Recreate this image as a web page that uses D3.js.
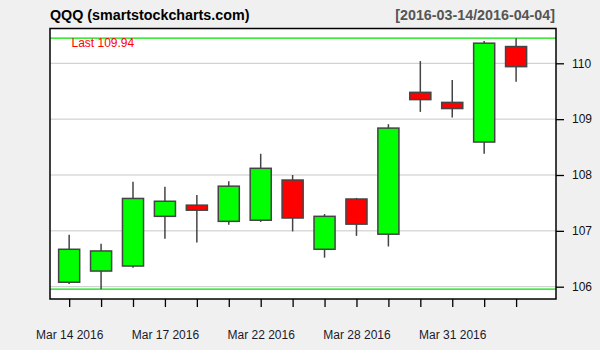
<!DOCTYPE html>
<html>
<head>
<meta charset="utf-8">
<script src="https://cdn.jsdelivr.net/npm/d3@7"></script>
<style>
  body { margin: 0; background: #f0f0f0; }
  svg { display: block; font-family: "Liberation Sans", Arial, sans-serif; }
</style>
</head>
<body>
<svg width="600" height="350"></svg>
<script>
// QQQ daily bars
const dates = ['2016-03-14', '2016-03-15', '2016-03-16', '2016-03-17', '2016-03-18',
  '2016-03-21', '2016-03-22', '2016-03-23', '2016-03-24', '2016-03-28',
  '2016-03-29', '2016-03-30', '2016-03-31', '2016-04-01', '2016-04-04'];
const opens  = [106.08, 106.28, 106.37, 107.26, 107.46, 107.17, 107.19, 107.91, 106.67, 107.57, 106.94, 109.48, 109.30, 108.59, 110.30];
const highs  = [106.93, 106.77, 107.88, 107.79, 107.64, 107.89, 108.38, 108.00, 107.30, 107.59, 108.91, 110.04, 109.70, 110.40, 110.45];
const lows   = [106.05, 105.955, 106.34, 106.86, 106.79, 107.11, 107.16, 106.99, 106.52, 106.91, 106.72, 109.13, 109.03, 108.38, 109.67];
const closes = [106.67, 106.64, 107.58, 107.53, 107.37, 107.80, 108.12, 107.23, 107.26, 107.12, 108.84, 109.35, 109.19, 110.36, 109.94];
const yTicks = [106, 107, 108, 109, 110];
const xLabels = ['Mar 14 2016', '', '', 'Mar 17 2016', '', '', 'Mar 22 2016', '', '',
  'Mar 28 2016', '', '', 'Mar 31 2016', '', ''];
const title = 'QQQ (smartstockcharts.com)';
const range = '[2016-03-14/2016-04-04]';

const pLeft = 50, pRight = 556, pTop = 28.5, pBottom = 299;

const svg = d3.select('svg');

const x = d3.scaleLinear()
  .domain([-0.6, dates.length + 0.25])
  .range([pLeft, pRight]);
const y = d3.scaleLinear()
  .domain([106, 110])
  .range([286.7, 63.3]);

// plot area
svg.append('rect')
  .attr('x', pLeft).attr('y', pTop)
  .attr('width', pRight - pLeft).attr('height', pBottom - pTop)
  .attr('fill', '#fff');

// grid
svg.append('g').selectAll('line')
  .data(yTicks)
  .enter().append('line')
  .attr('x1', pLeft).attr('x2', pRight)
  .attr('y1', d => y(d)).attr('y2', d => y(d))
  .attr('stroke', '#c8c8c8')
  .attr('stroke-width', 1);

// range lines (max high / min low)
const hiLo = [d3.max(highs), d3.min(lows)];
svg.append('g').selectAll('line')
  .data(hiLo)
  .enter().append('line')
  .attr('x1', pLeft).attr('x2', pRight)
  .attr('y1', d => y(d)).attr('y2', d => y(d))
  .attr('stroke', '#00e000')
  .attr('stroke-width', 1.3);

const bars = dates.map((d, i) => ({
  i: i, o: opens[i], h: highs[i], l: lows[i], c: closes[i]
}));

const half = 0.33;
const candle = svg.append('g').selectAll('g')
  .data(bars)
  .enter().append('g');

candle.append('line')
  .attr('x1', d => x(d.i)).attr('x2', d => x(d.i))
  .attr('y1', d => y(d.h)).attr('y2', d => y(d.l))
  .attr('stroke', '#444')
  .attr('stroke-width', 1.5);

candle.append('rect')
  .attr('x', d => x(d.i - half))
  .attr('width', d => x(d.i + half) - x(d.i - half))
  .attr('y', d => y(Math.max(d.o, d.c)))
  .attr('height', d => Math.max(1, Math.abs(y(d.o) - y(d.c))))
  .attr('fill', d => d.c >= d.o ? '#00ff00' : '#ff0000')
  .attr('stroke', '#444')
  .attr('stroke-width', 1.5);

// border
svg.append('rect')
  .attr('x', pLeft).attr('y', pTop)
  .attr('width', pRight - pLeft).attr('height', pBottom - pTop)
  .attr('fill', 'none')
  .attr('stroke', '#000')
  .attr('stroke-width', 1.5);

// axes
const xAxis = d3.axisBottom(x)
  .tickValues(d3.range(dates.length))
  .tickSize(8)
  .tickPadding(23.5)
  .tickFormat(i => xLabels[i]);
const gx = svg.append('g')
  .attr('transform', `translate(0,${pBottom})`)
  .call(xAxis);
gx.select('.domain').remove();
gx.selectAll('line').attr('stroke', '#000').attr('stroke-width', 1.3);
gx.selectAll('text').attr('font-size', 12).attr('fill', '#1a1a2e')
  .attr('font-family', '"Liberation Sans", Arial, sans-serif');

const yAxis = d3.axisRight(y)
  .tickValues(yTicks)
  .tickSize(8)
  .tickPadding(8)
  .tickFormat(d3.format('d'));
const gy = svg.append('g')
  .attr('transform', `translate(${pRight},0)`)
  .call(yAxis);
gy.select('.domain').remove();
gy.selectAll('line').attr('stroke', '#000').attr('stroke-width', 1.3);
gy.selectAll('text').attr('font-size', 12).attr('fill', '#111')
  .attr('font-family', '"Liberation Sans", Arial, sans-serif');

// titles
svg.append('text')
  .attr('x', pLeft).attr('y', 19.5)
  .attr('font-size', 14.3).attr('font-weight', 'bold')
  .attr('fill', '#000')
  .text(title);
svg.append('text')
  .attr('x', pRight - 1).attr('y', 19.5)
  .attr('text-anchor', 'end')
  .attr('font-size', 14.3).attr('font-weight', 'bold')
  .attr('fill', '#555')
  .text(range);

svg.append('text')
  .attr('x', 71.5).attr('y', 47)
  .attr('font-size', 12)
  .attr('fill', '#ff0000')
  .text('Last ' + closes[closes.length - 1].toFixed(2));
</script>
</body>
</html>
